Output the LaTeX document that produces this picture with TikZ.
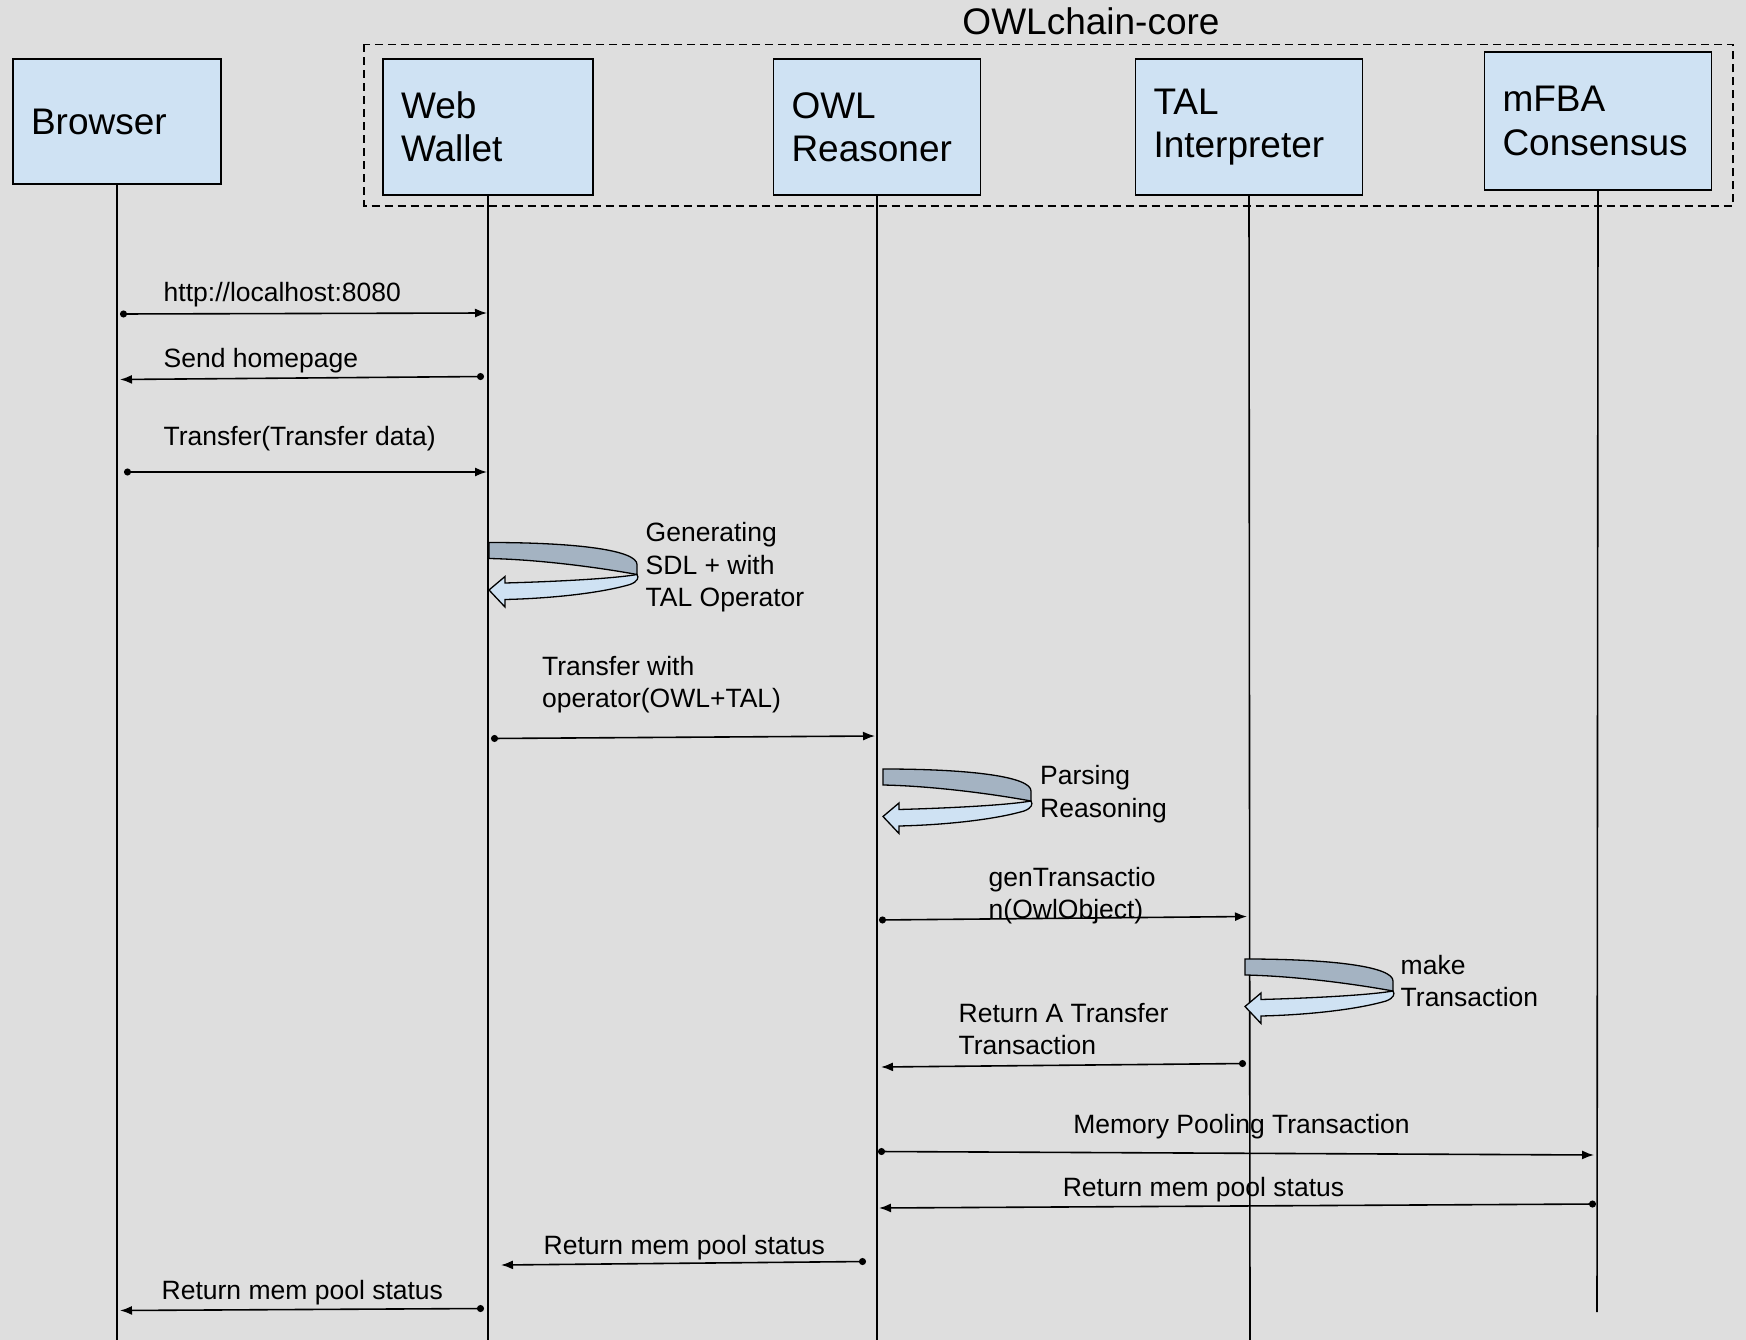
\documentclass[tikz,border=0pt]{standalone}
\usepackage{fontspec}
\setmainfont{Liberation Sans}
\usetikzlibrary{arrows.meta}

\definecolor{bg}{HTML}{DEDEDE}
\definecolor{boxfill}{HTML}{CFE2F3}
\definecolor{loopdark}{HTML}{A4B3C2}
\definecolor{looplight}{HTML}{CFE2F3}

\tikzset{
  actor/.style={draw=black, line width=1.8pt, fill=boxfill, rectangle,
    inner xsep=18pt, inner ysep=0pt, align=left,
    font=\fontsize{37}{43.4}\selectfont},
  life/.style={draw=black, line width=1.6pt},
  msg/.style={draw=black, line width=1.6pt,
    {Circle[length=7pt]}-{Latex[length=12pt,width=9pt]}},
  lbl/.style={font=\fontsize{26.5}{32.3}\selectfont, inner sep=0pt, align=left},
  corebox/.style={draw=black, line width=1.3pt, dash pattern=on 8pt off 5pt},
  % self-call: a U-turn band, back part dark, front part light with a head
  uturn/.pic={
    \filldraw[fill=loopdark, line width=1.3pt]
      (0,0) .. controls (90,0) and (148,8) .. (148,22)
      -- (148,32) .. controls (110,25) and (50,17) .. (0,16) -- cycle;
    \filldraw[fill=looplight, line width=1.3pt]
      (148,32) .. controls (150,35) and (149,39) .. (141,42)
      .. controls (110,51) and (60,56) .. (16,57)
      -- (16,64.5) -- (0,47.5) -- (16,34) -- (16,40.5)
      .. controls (70,39) and (125,36) .. (148,32) -- cycle;
  }
}

\begin{document}
\begin{tikzpicture}[x=1pt, y=-1pt]
  % canvas
  \fill[bg] (0,0) rectangle (1746,1340);
  \useasboundingbox (0,0) rectangle (1746,1340);

  % core group frame and title
  \draw[corebox] (364,44.5) rectangle (1733,206);
  \node[font=\fontsize{37}{43.4}\selectfont, anchor=base, inner sep=0pt]
    (coretitle) at (1091,35) {OWLchain-core};

  % participants
  \node[actor, text width=172pt, minimum height=125pt] (browser) at (117,121.5) {Browser};
  \node[actor, text width=174pt, minimum height=136pt] (wallet) at (488,127) {Web\\Wallet};
  \node[actor, text width=171pt, minimum height=136pt] (owl) at (877,127) {OWL\\Reasoner};
  \node[actor, text width=191pt, minimum height=136pt] (tal) at (1249,127) {TAL\\Interpreter};
  \node[actor, text width=191pt, minimum height=138pt] (mfba) at (1598,121) {mFBA\\Consensus};

  % lifelines
  \coordinate (browserEnd) at (117,1340);
  \coordinate (walletEnd) at (488,1340);
  \coordinate (owlEnd) at (877,1340);
  \coordinate (talEnd) at (1250,1340);
  \coordinate (mfbaEnd) at (1597,1312);
  \draw[life] (browser.south) -- (browserEnd);
  \draw[life] (wallet.south) -- (walletEnd);
  \draw[life] (owl.south) -- (owlEnd);
  \draw[life] (tal.south) -- (talEnd);
  \draw[life] (mfba.south) -- (mfbaEnd);

  % message end points
  \coordinate (m1a) at (120,314);    \coordinate (m1b) at (487,313);
  \coordinate (m2a) at (484,376.5);  \coordinate (m2b) at (120,379.5);
  \coordinate (m3a) at (124,472);    \coordinate (m3b) at (487,472);
  \coordinate (m5a) at (491,738.5);  \coordinate (m5b) at (875,736);
  \coordinate (m7a) at (879,920);    \coordinate (m7b) at (1247,916.5);
  \coordinate (m9a) at (1246,1063.5);\coordinate (m9b) at (881,1067);
  \coordinate (m10a) at (878,1151.5);\coordinate (m10b) at (1594,1155);
  \coordinate (m11a) at (1596,1204); \coordinate (m11b) at (879,1208);
  \coordinate (m12a) at (866,1261.5);\coordinate (m12b) at (501,1265);
  \coordinate (m13a) at (484,1308.5);\coordinate (m13b) at (120,1310.5);

  % messages (multi-line labels are placed by their last baseline)
  \draw[msg] (m1a) -- (m1b);
  \node[lbl, anchor=base west] (l1) at (163.5,302) {http://localhost:8080};
  \draw[msg] (m2a) -- (m2b);
  \node[lbl, anchor=base west] (l2) at (163.5,367.5) {Send homepage};
  \draw[msg] (m3a) -- (m3b);
  \node[lbl, anchor=base west] (l3) at (163.5,445.5) {Transfer(Transfer data)};

  \pic at (489,542.5) {uturn};
  \node[lbl, anchor=base west] (l4) at (645.5,606.5) {Generating\\SDL + with\\TAL Operator};

  \draw[msg] (m5a) -- (m5b);
  \node[lbl, anchor=base west] (l5) at (542,707.5) {Transfer with\\operator(OWL+TAL)};

  \pic at (883,769) {uturn};
  \node[lbl, anchor=base west] (l6) at (1040,817) {Parsing\\Reasoning};

  \draw[msg] (m7a) -- (m7b);
  \node[lbl, anchor=base west] (l7) at (988.5,918.5) {genTransactio\\n(OwlObject)};

  \pic at (1245,959) {uturn};
  \node[lbl, anchor=base west] (l8) at (1400.5,1006.5) {make\\Transaction};

  \draw[msg] (m9a) -- (m9b);
  \node[lbl, anchor=base west] (l9) at (958.5,1054.5) {Return A Transfer\\Transaction};

  \draw[msg] (m10a) -- (m10b);
  \node[lbl, anchor=base] (l10) at (1241.5,1133.5) {Memory Pooling Transaction};

  \draw[msg] (m11a) -- (m11b);
  \node[lbl, anchor=base] (l11) at (1203.5,1196) {Return mem pool status};

  \draw[msg] (m12a) -- (m12b);
  \node[lbl, anchor=base west] (l12) at (543.5,1254) {Return mem pool status};

  \draw[msg] (m13a) -- (m13b);
  \node[lbl, anchor=base west] (l13) at (161.5,1299.5) {Return mem pool status};
\end{tikzpicture}
\end{document}
